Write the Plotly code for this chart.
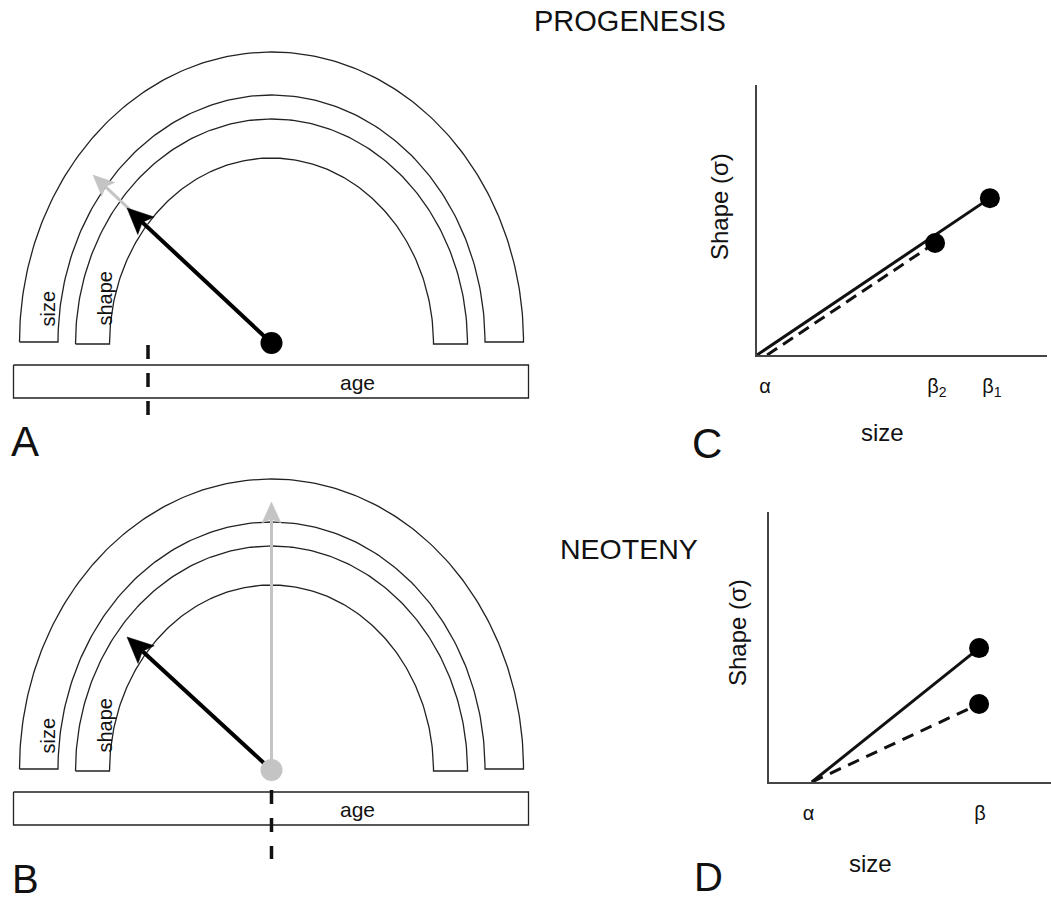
import numpy as np
import plotly.graph_objects as go

W, H = 1051, 900
FONT = "Liberation Sans, Arial, Helvetica, sans-serif"

# ---------------- Panels A & B (semicircle diagrams, units = px, origin at the dot)
band_names = ["size", "shape"]
band_outer_rx = [252, 196]
band_outer_ry = [290, 225]
band_inner_rx = [213.5, 162]
band_inner_ry = [247, 186]
band_base = [1, -1]
band_label_x = [-224, -167]
band_label_y = [34, 45]

age_bar_x = [-258, 257]
age_bar_y = [-22, -55]
age_label_xy = [86, -39]

# Panel A (progenesis): arrow tips relative to the dot
a_shape_tip = [-144.5, 135]
a_size_tip = [-178.5, 168]
a_cut_x = -123.5
a_cut_y = [-2, -78]
# Panel B (neoteny)
b_shape_tip = [-144.5, 133]
b_size_tip = [0, 268]
b_cut_x = 0
b_cut_y = [-20, -89]

# ---------------- Panel C (progenesis, shape vs size)
c_tick_vals = [0.28, 6.2, 8.1]
c_tick_text = ["α", "β<sub>2</sub>", "β<sub>1</sub>"]
c_solid_x = [0, 8.03]
c_solid_y = [0, 5.81]
c_dash_x = [0.35, 6.14]
c_dash_y = [0, 4.15]
c_pts_x = [8.03, 6.14]
c_pts_y = [5.81, 4.15]

# ---------------- Panel D (neoteny, shape vs size)
d_tick_vals = [1.4, 7.48]
d_tick_text = ["α", "β"]
d_solid_x = [1.52, 7.45]
d_solid_y = [0, 4.96]
d_dash_x = [1.52, 7.45]
d_dash_y = [0, 2.89]
d_pts_x = [7.45, 7.45]
d_pts_y = [4.96, 2.89]

LINE = "#222222"
GRAY = "#c4c4c4"

fig = go.Figure()


def band_polygon(rxo, ryo, rxi, ryi, base):
    t = np.linspace(np.pi, 0, 181)
    xo = rxo * np.cos(t)
    yo = base + ryo * np.sin(t)
    xi = rxi * np.cos(t[::-1])
    yi = base + ryi * np.sin(t[::-1])
    x = np.concatenate([xo, xi, xo[:1]])
    y = np.concatenate([yo, yi, yo[:1]])
    return x, y


def add_arrow(xr, yr, tip, color, width, head_len, head_half, notch):
    tip = np.array(tip, dtype=float)
    d = tip / np.hypot(*tip)
    n = np.array([-d[1], d[0]])
    base = tip - (head_len - notch) * d
    fig.add_trace(go.Scatter(x=[0, base[0]], y=[0, base[1]], mode="lines",
                             line=dict(color=color, width=width), hoverinfo="skip",
                             showlegend=False, xaxis=xr, yaxis=yr))
    p1 = tip - head_len * d + head_half * n
    p2 = tip - head_len * d - head_half * n
    hx = [tip[0], p1[0], base[0], p2[0], tip[0]]
    hy = [tip[1], p1[1], base[1], p2[1], tip[1]]
    fig.add_trace(go.Scatter(x=hx, y=hy, mode="lines", fill="toself", fillcolor=color,
                             line=dict(color=color, width=0.5), hoverinfo="skip",
                             showlegend=False, xaxis=xr, yaxis=yr))


def add_semicircle_panel(xr, yr, shape_tip, size_tip, cut_x, cut_y, dot_color):
    for i in range(len(band_names)):
        x, y = band_polygon(band_outer_rx[i], band_outer_ry[i], band_inner_rx[i], band_inner_ry[i], band_base[i])
        fig.add_trace(go.Scatter(x=x, y=y, mode="lines", fill="toself", fillcolor="white",
                                 line=dict(color=LINE, width=1.3), hoverinfo="skip",
                                 showlegend=False, xaxis=xr, yaxis=yr))
        fig.add_annotation(x=band_label_x[i], y=band_label_y[i], xref=xr, yref=yr,
                           text=band_names[i], textangle=-90, showarrow=False,
                           font=dict(family=FONT, size=20, color="#111"))
    # age bar
    bx = [age_bar_x[0], age_bar_x[1], age_bar_x[1], age_bar_x[0], age_bar_x[0]]
    by = [age_bar_y[0], age_bar_y[0], age_bar_y[1], age_bar_y[1], age_bar_y[0]]
    fig.add_trace(go.Scatter(x=bx, y=by, mode="lines", fill="toself", fillcolor="white",
                             line=dict(color=LINE, width=1.3), hoverinfo="skip",
                             showlegend=False, xaxis=xr, yaxis=yr))
    fig.add_annotation(x=age_label_xy[0], y=age_label_xy[1], xref=xr, yref=yr, text="age",
                       showarrow=False, font=dict(family=FONT, size=21, color="#111"))
    # arrows: size (gray) under shape (black)
    add_arrow(xr, yr, size_tip, GRAY, 3, 21, 9.5, 4)
    add_arrow(xr, yr, shape_tip, "#000", 4, 26, 12, 5)
    # dot
    fig.add_trace(go.Scatter(x=[0], y=[0], mode="markers",
                             marker=dict(size=22, color=dot_color, line=dict(width=0)),
                             hoverinfo="skip", showlegend=False, xaxis=xr, yaxis=yr, cliponaxis=False))
    # dashed age cut
    fig.add_trace(go.Scatter(x=[cut_x, cut_x], y=cut_y, mode="lines",
                             line=dict(color="#111", width=3.5, dash="14px,14px"),
                             hoverinfo="skip", showlegend=False, xaxis=xr, yaxis=yr))


add_semicircle_panel("x", "y", a_shape_tip, a_size_tip, a_cut_x, a_cut_y, "#000")
add_semicircle_panel("x2", "y2", b_shape_tip, b_size_tip, b_cut_x, b_cut_y, GRAY)

# Panel C traces
fig.add_trace(go.Scatter(x=c_dash_x, y=c_dash_y, mode="lines", line=dict(color="#111", width=3, dash="12px,7px"),
                         hoverinfo="skip", showlegend=False, xaxis="x3", yaxis="y3"))
fig.add_trace(go.Scatter(x=c_solid_x, y=c_solid_y, mode="lines", line=dict(color="#111", width=3),
                         hoverinfo="skip", showlegend=False, xaxis="x3", yaxis="y3"))
fig.add_trace(go.Scatter(x=c_pts_x, y=c_pts_y, mode="markers", marker=dict(size=20, color="#000"),
                         hoverinfo="skip", showlegend=False, xaxis="x3", yaxis="y3", cliponaxis=False))
# Panel D traces
fig.add_trace(go.Scatter(x=d_dash_x, y=d_dash_y, mode="lines", line=dict(color="#111", width=3, dash="12px,8px"),
                         hoverinfo="skip", showlegend=False, xaxis="x4", yaxis="y4"))
fig.add_trace(go.Scatter(x=d_solid_x, y=d_solid_y, mode="lines", line=dict(color="#111", width=3),
                         hoverinfo="skip", showlegend=False, xaxis="x4", yaxis="y4"))
fig.add_trace(go.Scatter(x=d_pts_x, y=d_pts_y, mode="markers", marker=dict(size=20, color="#000"),
                         hoverinfo="skip", showlegend=False, xaxis="x4", yaxis="y4", cliponaxis=False))

hidden = dict(visible=False, showgrid=False, zeroline=False, fixedrange=True)


def plot_x(domain, anchor, tv, tt):
    return dict(domain=domain, anchor=anchor, range=[0, 10], showgrid=False, zeroline=False,
                showline=True, linecolor="#444", linewidth=1.6, ticks="outside", ticklen=12,
                tickcolor="rgba(0,0,0,0)", tickvals=tv, ticktext=tt,
                tickfont=dict(family=FONT, size=20, color="#111"))


def plot_y(domain, anchor):
    return dict(domain=domain, anchor=anchor, range=[0, 10], showgrid=False, zeroline=False,
                showline=True, linecolor="#444", linewidth=1.6, showticklabels=False, ticks="")


fig.update_layout(
    width=W, height=H, margin=dict(l=0, r=0, t=0, b=0),
    paper_bgcolor="white", plot_bgcolor="rgba(0,0,0,0)", showlegend=False,
    xaxis=dict(domain=[0, 560 / W], range=[-271.5, 288.5], anchor="y", **hidden),
    yaxis=dict(domain=[0.5, 1], range=[-107, 343], anchor="x", **hidden),
    xaxis2=dict(domain=[0, 560 / W], range=[-271.5, 288.5], anchor="y2", **hidden),
    yaxis2=dict(domain=[0, 0.5], range=[-130, 320], anchor="x2", **hidden),
    xaxis3=plot_x([757 / W, 1047 / W], "y3", c_tick_vals, c_tick_text),
    yaxis3=plot_y([1 - 355 / H, 1 - 85 / H], "x3"),
    xaxis4=plot_x([769 / W, 1.0], "y4", d_tick_vals, d_tick_text),
    yaxis4=plot_y([1 - 782 / H, 1 - 512 / H], "x4"),
)


def px(x, y):
    return x / W, 1 - y / H


texts = [
    ("PROGENESIS", 630, 21, 29, 0),
    ("NEOTENY", 629, 549, 28.5, 0),
    ("A", 25, 442, 42, 0),
    ("B", 25, 879, 40, 0),
    ("C", 707, 443, 42, 0),
    ("D", 708, 877, 40, 0),
    ("size", 882, 432, 24, 0),
    ("size", 870, 863, 24, 0),
    ("Shape (σ)", 720, 207, 24, -90),
    ("Shape (σ)", 737, 633, 24, -90),
]
for t, x, y, s, ang in texts:
    xx, yy = px(x, y)
    fig.add_annotation(x=xx, y=yy, xref="paper", yref="paper", text=t, showarrow=False,
                       textangle=ang, xanchor="center", yanchor="middle",
                       font=dict(family=FONT, size=s, color="#111"))

fig.write_html("out.html")
